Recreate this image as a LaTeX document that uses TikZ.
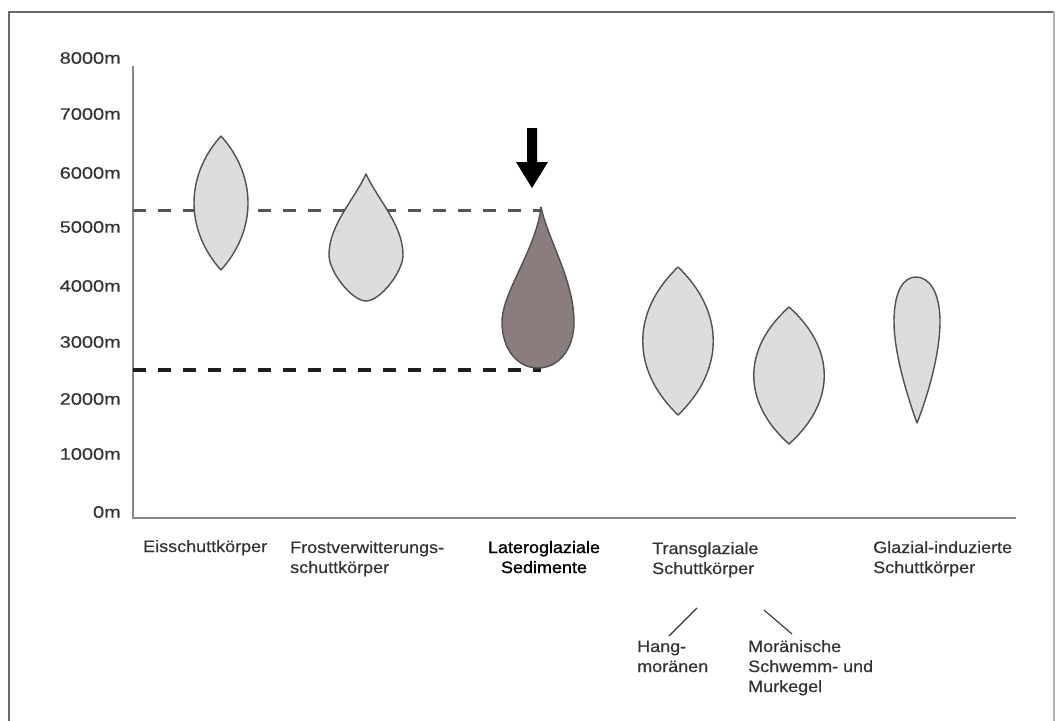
\documentclass[tikz,border=0pt]{standalone}
\usepackage{fontspec}
\newfontfamily\axfont[FakeStretch=1.21,FakeBold=0.4]{Liberation Sans}
\newfontfamily\labfont[FakeStretch=1.09,FakeBold=0.4]{Liberation Sans}
\newfontfamily\labbold[FakeStretch=1.09,FakeBold=1.2]{Liberation Sans}
\definecolor{lightfill}{RGB}{221,221,221}
\definecolor{darkfill}{RGB}{139,125,125}
\definecolor{outline}{RGB}{80,80,80}
\definecolor{txt}{RGB}{50,50,50}
\definecolor{framecol}{RGB}{105,105,105}
\definecolor{axiscol}{RGB}{135,135,135}
\begin{document}
\begin{tikzpicture}[x=1pt,y=-1pt,
  axlab/.style={anchor=east, inner sep=0pt, font=\axfont\fontsize{16.5}{20}\selectfont, text=txt},
  catlab/.style={anchor=base west, inner sep=0pt, align=left, font=\labfont\fontsize{16.5}{20}\selectfont, text=txt},
  body/.style={draw=outline, line width=1.4pt, fill=lightfill, line join=round},
  darkbody/.style={body, fill=darkfill},
  refline/.style={dashed, dash pattern=on 13pt off 12pt},
  pointer/.style={draw=txt, line width=1.1pt}]
\useasboundingbox (0,0) rectangle (1056,720);
\clip (0,0) rectangle (1056,720);
% frame
\draw[framecol, line width=2.5pt] (9,740) -- (9,12) -- (1054,12);
\draw[framecol!50, line width=1.2pt] (1054,12) -- (1054,740);
% axes
\coordinate (ytop) at (133,66);
\coordinate (origin) at (133,518);
\coordinate (xend) at (1016,518);
\draw[axiscol, line width=1.8pt] (ytop) -- (origin) -- (xend);
% axis labels
\node[axlab] (l8) at (121,58) {8000m};
\node[axlab] (l7) at (121,114) {7000m};
\node[axlab] (l6) at (121,173) {6000m};
\node[axlab] (l5) at (121,227) {5000m};
\node[axlab] (l4) at (121,286) {4000m};
\node[axlab] (l3) at (121,342) {3000m};
\node[axlab] (l2) at (121,399) {2000m};
\node[axlab] (l1) at (121,454) {1000m};
\node[axlab] (l0) at (121,512) {0m};
% reference lines
\coordinate (upA) at (133,210);
\coordinate (upB) at (541,210);
\coordinate (loA) at (133,370);
\coordinate (loB) at (541,370);
\draw[refline, color={rgb,255:red,85;green,85;blue,85}, line width=3pt] (upA) -- (upB);
\draw[refline, color={rgb,255:red,30;green,30;blue,30}, line width=3.2pt] (loA) -- (loB);
% bodies
\draw[body] (221,136) .. controls (257,176) and (257,230) .. (221,270)
  .. controls (185,230) and (185,176) .. cycle;
\draw[body] (366,174) .. controls (378,200) and (403,225) .. (403,255)
  .. controls (403,272) and (380,301) .. (366,301)
  .. controls (352,301) and (329,272) .. (329,255)
  .. controls (329,225) and (354,200) .. cycle;
\draw[darkbody] (541,207) .. controls (548,240) and (574,280) .. (574,322)
  .. controls (574,350) and (558,368) .. (538,368)
  .. controls (518,368) and (502,350) .. (502,322)
  .. controls (502,292) and (536,250) .. cycle;
\draw[body] (678,267) .. controls (725,312) and (725,370) .. (678,415)
  .. controls (631,370) and (631,312) .. cycle;
\draw[body] (789,307) .. controls (836,349) and (836,402) .. (789,444)
  .. controls (742,402) and (742,349) .. cycle;
\draw[body] (917,423) .. controls (930,390) and (940,350) .. (940,322)
  .. controls (940,290) and (928,277) .. (916,277)
  .. controls (904,277) and (894,290) .. (894,322)
  .. controls (894,350) and (905,390) .. cycle;
% arrow
\fill[black] (527,128) -- (537,128) -- (537,162) -- (548,162) -- (532,188) -- (516,162) -- (527,162) -- cycle;
% category labels (anchor base = baseline of last line)
\node[catlab] (eis) at (143,552) {Eisschuttkörper};
\node[catlab] (frost) at (290,573) {Frostverwitterungs-\\schuttkörper};
\node[catlab, anchor=base, align=center, text=black, font=\labbold\fontsize{16.5}{20}\selectfont] (lat) at (544,573) {Lateroglaziale\\Sedimente};
\node[catlab] (trans) at (652,574) {Transglaziale\\Schuttkörper};
\node[catlab] (glaz) at (873,573) {Glazial-induzierte\\Schuttkörper};
\node[catlab] (hang) at (637,672) {Hang-\\moränen};
\node[catlab] (mor) at (748,692) {Moränische\\Schwemm- und\\Murkegel};
% pointers
\coordinate (hangA) at (669,636);
\coordinate (hangB) at (697,608);
\coordinate (morA) at (764,610);
\coordinate (morB) at (792,634);
\draw[pointer] (hangA) -- (hangB);
\draw[pointer] (morA) -- (morB);
\end{tikzpicture}
\end{document}
